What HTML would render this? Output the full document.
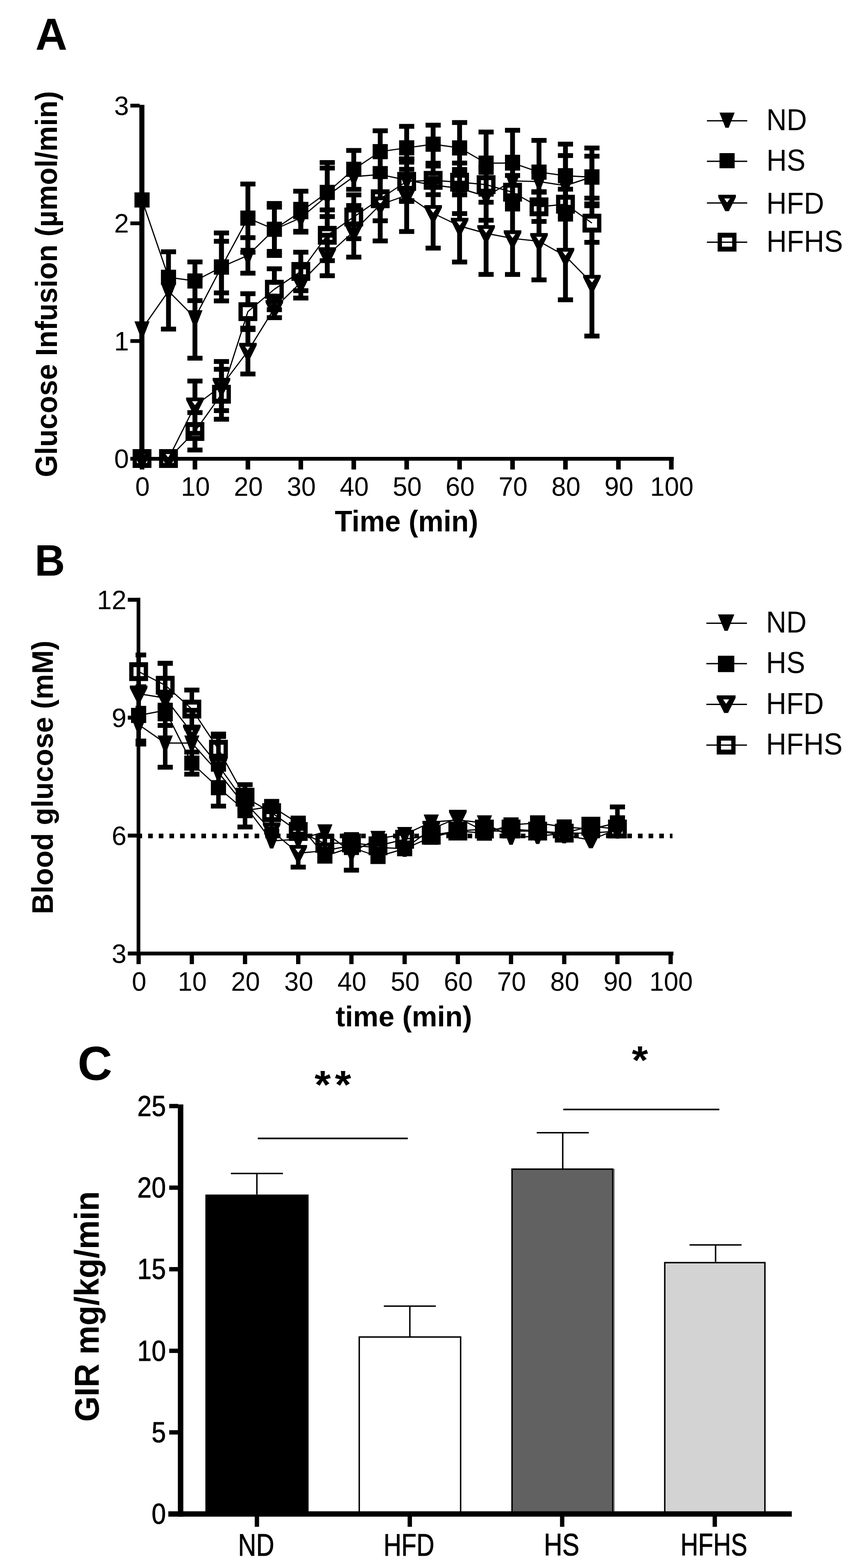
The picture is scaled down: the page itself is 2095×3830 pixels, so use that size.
<!DOCTYPE html>
<html><head><meta charset="utf-8"><title>Figure</title>
<style>
html,body{margin:0;padding:0;background:#fff;}
svg{display:block;}
text{font-family:"Liberation Sans", Arial, sans-serif;fill:#000;}
</style></head>
<body>
<svg width="2095" height="3830" viewBox="0 0 2095 3830">
<rect x="0" y="0" width="2095" height="3830" fill="#fff"/>
<rect x="340.2" y="256.0" width="12.4" height="869.3" fill="#000"/>
<rect x="340.2" y="1116.0" width="1305.0" height="9.3" fill="#000"/>
<rect x="318.3" y="1115.9" width="22.7" height="9.2" fill="#000"/>
<text x="314.8" y="1143.1" font-size="64.8" font-weight="normal" text-anchor="end">0</text>
<rect x="318.3" y="828.4" width="22.7" height="9.2" fill="#000"/>
<text x="314.8" y="855.6" font-size="64.8" font-weight="normal" text-anchor="end">1</text>
<rect x="318.3" y="540.9" width="22.7" height="9.2" fill="#000"/>
<text x="314.8" y="568.1" font-size="64.8" font-weight="normal" text-anchor="end">2</text>
<rect x="318.3" y="253.4" width="22.7" height="9.2" fill="#000"/>
<text x="314.8" y="280.6" font-size="64.8" font-weight="normal" text-anchor="end">3</text>
<rect x="341.2" y="1120.0" width="11.2" height="26.8" fill="#000"/>
<text transform="translate(348.0,1211.3) scale(0.98,1)" font-size="64.8" font-weight="normal" text-anchor="middle">0</text>
<rect x="470.4" y="1120.0" width="11.2" height="26.8" fill="#000"/>
<text transform="translate(477.2,1211.3) scale(0.98,1)" font-size="64.8" font-weight="normal" text-anchor="middle">10</text>
<rect x="599.7" y="1120.0" width="11.2" height="26.8" fill="#000"/>
<text transform="translate(606.5,1211.3) scale(0.98,1)" font-size="64.8" font-weight="normal" text-anchor="middle">20</text>
<rect x="728.9" y="1120.0" width="11.2" height="26.8" fill="#000"/>
<text transform="translate(735.7,1211.3) scale(0.98,1)" font-size="64.8" font-weight="normal" text-anchor="middle">30</text>
<rect x="858.2" y="1120.0" width="11.2" height="26.8" fill="#000"/>
<text transform="translate(865.0,1211.3) scale(0.98,1)" font-size="64.8" font-weight="normal" text-anchor="middle">40</text>
<rect x="987.4" y="1120.0" width="11.2" height="26.8" fill="#000"/>
<text transform="translate(994.2,1211.3) scale(0.98,1)" font-size="64.8" font-weight="normal" text-anchor="middle">50</text>
<rect x="1116.6" y="1120.0" width="11.2" height="26.8" fill="#000"/>
<text transform="translate(1123.4,1211.3) scale(0.98,1)" font-size="64.8" font-weight="normal" text-anchor="middle">60</text>
<rect x="1245.9" y="1120.0" width="11.2" height="26.8" fill="#000"/>
<text transform="translate(1252.7,1211.3) scale(0.98,1)" font-size="64.8" font-weight="normal" text-anchor="middle">70</text>
<rect x="1375.1" y="1120.0" width="11.2" height="26.8" fill="#000"/>
<text transform="translate(1381.9,1211.3) scale(0.98,1)" font-size="64.8" font-weight="normal" text-anchor="middle">80</text>
<rect x="1504.4" y="1120.0" width="11.2" height="26.8" fill="#000"/>
<text transform="translate(1511.2,1211.3) scale(0.98,1)" font-size="64.8" font-weight="normal" text-anchor="middle">90</text>
<rect x="1633.6" y="1120.0" width="11.2" height="26.8" fill="#000"/>
<text transform="translate(1640.4,1211.3) scale(0.98,1)" font-size="64.8" font-weight="normal" text-anchor="middle">100</text>
<text transform="translate(817.50,1297.91) scale(0.9742,1)" font-size="71.38" font-weight="bold">Time (min)</text>
<text transform="translate(138.75,1165.40) rotate(-90) scale(0.9338,1)" font-size="75.00" font-weight="bold">Glucose Infusion (µmol/min)</text>
<text transform="translate(86.57,121.09) scale(0.9899,1)" font-size="108.82" font-weight="bold">A</text>
<rect x="470.1" y="930.7" width="11.8" height="49.3" fill="#000"/>
<rect x="457.5" y="924.8" width="37.0" height="11.8" fill="#000"/>
<rect x="470.1" y="991.0" width="11.8" height="67.5" fill="#000"/>
<rect x="457.5" y="1052.6" width="37.0" height="11.8" fill="#000"/>
<rect x="534.8" y="883.0" width="11.8" height="49.0" fill="#000"/>
<rect x="522.2" y="877.1" width="37.0" height="11.8" fill="#000"/>
<rect x="534.8" y="943.0" width="11.8" height="60.0" fill="#000"/>
<rect x="522.2" y="997.1" width="37.0" height="11.8" fill="#000"/>
<rect x="599.4" y="801.5" width="11.8" height="45.0" fill="#000"/>
<rect x="586.8" y="795.6" width="37.0" height="11.8" fill="#000"/>
<rect x="599.4" y="857.5" width="11.8" height="56.0" fill="#000"/>
<rect x="586.8" y="907.6" width="37.0" height="11.8" fill="#000"/>
<rect x="664.0" y="730.0" width="11.8" height="12.0" fill="#000"/>
<rect x="651.4" y="724.1" width="37.0" height="11.8" fill="#000"/>
<rect x="664.0" y="753.0" width="11.8" height="23.0" fill="#000"/>
<rect x="651.4" y="770.1" width="37.0" height="11.8" fill="#000"/>
<rect x="728.6" y="652.0" width="11.8" height="27.0" fill="#000"/>
<rect x="716.0" y="646.1" width="37.0" height="11.8" fill="#000"/>
<rect x="728.6" y="690.0" width="11.8" height="38.0" fill="#000"/>
<rect x="716.0" y="722.1" width="37.0" height="11.8" fill="#000"/>
<rect x="793.2" y="574.5" width="11.8" height="38.5" fill="#000"/>
<rect x="780.6" y="568.6" width="37.0" height="11.8" fill="#000"/>
<rect x="793.2" y="624.0" width="11.8" height="49.5" fill="#000"/>
<rect x="780.6" y="667.6" width="37.0" height="11.8" fill="#000"/>
<rect x="857.9" y="502.0" width="11.8" height="52.0" fill="#000"/>
<rect x="845.3" y="496.1" width="37.0" height="11.8" fill="#000"/>
<rect x="857.9" y="565.0" width="11.8" height="63.0" fill="#000"/>
<rect x="845.3" y="622.1" width="37.0" height="11.8" fill="#000"/>
<rect x="922.5" y="411.5" width="11.8" height="77.5" fill="#000"/>
<rect x="909.9" y="405.6" width="37.0" height="11.8" fill="#000"/>
<rect x="922.5" y="500.0" width="11.8" height="88.5" fill="#000"/>
<rect x="909.9" y="582.6" width="37.0" height="11.8" fill="#000"/>
<rect x="987.1" y="388.5" width="11.8" height="77.5" fill="#000"/>
<rect x="974.5" y="382.6" width="37.0" height="11.8" fill="#000"/>
<rect x="987.1" y="477.0" width="11.8" height="88.5" fill="#000"/>
<rect x="974.5" y="559.6" width="37.0" height="11.8" fill="#000"/>
<rect x="1051.7" y="436.0" width="11.8" height="74.0" fill="#000"/>
<rect x="1039.1" y="430.1" width="37.0" height="11.8" fill="#000"/>
<rect x="1051.7" y="521.0" width="11.8" height="85.0" fill="#000"/>
<rect x="1039.1" y="600.1" width="37.0" height="11.8" fill="#000"/>
<rect x="1116.3" y="464.0" width="11.8" height="77.0" fill="#000"/>
<rect x="1103.7" y="458.1" width="37.0" height="11.8" fill="#000"/>
<rect x="1116.3" y="552.0" width="11.8" height="88.0" fill="#000"/>
<rect x="1103.7" y="634.1" width="37.0" height="11.8" fill="#000"/>
<rect x="1181.0" y="469.7" width="11.8" height="89.3" fill="#000"/>
<rect x="1168.4" y="463.8" width="37.0" height="11.8" fill="#000"/>
<rect x="1181.0" y="570.0" width="11.8" height="100.3" fill="#000"/>
<rect x="1168.4" y="664.4" width="37.0" height="11.8" fill="#000"/>
<rect x="1245.6" y="494.4" width="11.8" height="77.0" fill="#000"/>
<rect x="1233.0" y="488.5" width="37.0" height="11.8" fill="#000"/>
<rect x="1245.6" y="582.4" width="11.8" height="88.0" fill="#000"/>
<rect x="1233.0" y="664.5" width="37.0" height="11.8" fill="#000"/>
<rect x="1310.2" y="495.0" width="11.8" height="83.3" fill="#000"/>
<rect x="1297.6" y="489.1" width="37.0" height="11.8" fill="#000"/>
<rect x="1310.2" y="589.3" width="11.8" height="94.3" fill="#000"/>
<rect x="1297.6" y="677.7" width="37.0" height="11.8" fill="#000"/>
<rect x="1374.8" y="518.9" width="11.8" height="95.7" fill="#000"/>
<rect x="1362.2" y="513.0" width="37.0" height="11.8" fill="#000"/>
<rect x="1374.8" y="625.6" width="11.8" height="106.7" fill="#000"/>
<rect x="1362.2" y="726.4" width="37.0" height="11.8" fill="#000"/>
<rect x="1439.4" y="562.0" width="11.8" height="118.4" fill="#000"/>
<rect x="1426.8" y="556.1" width="37.0" height="11.8" fill="#000"/>
<rect x="1439.4" y="691.4" width="11.8" height="129.4" fill="#000"/>
<rect x="1426.8" y="814.9" width="37.0" height="11.8" fill="#000"/>
<rect x="470.1" y="1007.8" width="11.8" height="35.2" fill="#000"/>
<rect x="457.5" y="1001.9" width="37.0" height="11.8" fill="#000"/>
<rect x="470.1" y="1065.0" width="11.8" height="34.2" fill="#000"/>
<rect x="457.5" y="1093.3" width="37.0" height="11.8" fill="#000"/>
<rect x="534.8" y="902.0" width="11.8" height="50.0" fill="#000"/>
<rect x="522.2" y="896.1" width="37.0" height="11.8" fill="#000"/>
<rect x="534.8" y="974.0" width="11.8" height="50.0" fill="#000"/>
<rect x="522.2" y="1018.1" width="37.0" height="11.8" fill="#000"/>
<rect x="599.4" y="717.4" width="11.8" height="32.8" fill="#000"/>
<rect x="586.8" y="711.5" width="37.0" height="11.8" fill="#000"/>
<rect x="599.4" y="772.2" width="11.8" height="32.8" fill="#000"/>
<rect x="586.8" y="799.1" width="37.0" height="11.8" fill="#000"/>
<rect x="664.0" y="656.5" width="11.8" height="39.0" fill="#000"/>
<rect x="651.4" y="650.6" width="37.0" height="11.8" fill="#000"/>
<rect x="664.0" y="717.5" width="11.8" height="39.0" fill="#000"/>
<rect x="651.4" y="750.6" width="37.0" height="11.8" fill="#000"/>
<rect x="728.6" y="616.0" width="11.8" height="36.0" fill="#000"/>
<rect x="716.0" y="610.1" width="37.0" height="11.8" fill="#000"/>
<rect x="728.6" y="674.0" width="11.8" height="36.0" fill="#000"/>
<rect x="716.0" y="704.1" width="37.0" height="11.8" fill="#000"/>
<rect x="793.2" y="512.7" width="11.8" height="51.0" fill="#000"/>
<rect x="780.6" y="506.8" width="37.0" height="11.8" fill="#000"/>
<rect x="793.2" y="585.7" width="11.8" height="51.0" fill="#000"/>
<rect x="780.6" y="630.8" width="37.0" height="11.8" fill="#000"/>
<rect x="857.9" y="476.0" width="11.8" height="43.0" fill="#000"/>
<rect x="845.3" y="470.1" width="37.0" height="11.8" fill="#000"/>
<rect x="857.9" y="541.0" width="11.8" height="42.0" fill="#000"/>
<rect x="845.3" y="577.1" width="37.0" height="11.8" fill="#000"/>
<rect x="922.5" y="431.5" width="11.8" height="42.9" fill="#000"/>
<rect x="909.9" y="425.6" width="37.0" height="11.8" fill="#000"/>
<rect x="922.5" y="496.4" width="11.8" height="42.9" fill="#000"/>
<rect x="909.9" y="533.4" width="37.0" height="11.8" fill="#000"/>
<rect x="987.1" y="396.1" width="11.8" height="36.0" fill="#000"/>
<rect x="974.5" y="390.2" width="37.0" height="11.8" fill="#000"/>
<rect x="987.1" y="454.1" width="11.8" height="36.0" fill="#000"/>
<rect x="974.5" y="484.2" width="37.0" height="11.8" fill="#000"/>
<rect x="1051.7" y="405.5" width="11.8" height="24.0" fill="#000"/>
<rect x="1039.1" y="399.6" width="37.0" height="11.8" fill="#000"/>
<rect x="1051.7" y="451.5" width="11.8" height="24.0" fill="#000"/>
<rect x="1039.1" y="469.6" width="37.0" height="11.8" fill="#000"/>
<rect x="1116.3" y="414.0" width="11.8" height="20.0" fill="#000"/>
<rect x="1103.7" y="408.1" width="37.0" height="11.8" fill="#000"/>
<rect x="1116.3" y="456.0" width="11.8" height="20.0" fill="#000"/>
<rect x="1103.7" y="470.1" width="37.0" height="11.8" fill="#000"/>
<rect x="1181.0" y="408.0" width="11.8" height="32.0" fill="#000"/>
<rect x="1168.4" y="402.1" width="37.0" height="11.8" fill="#000"/>
<rect x="1181.0" y="462.0" width="11.8" height="32.0" fill="#000"/>
<rect x="1168.4" y="488.1" width="37.0" height="11.8" fill="#000"/>
<rect x="1245.6" y="428.6" width="11.8" height="30.0" fill="#000"/>
<rect x="1233.0" y="422.7" width="37.0" height="11.8" fill="#000"/>
<rect x="1245.6" y="480.6" width="11.8" height="30.0" fill="#000"/>
<rect x="1233.0" y="504.7" width="37.0" height="11.8" fill="#000"/>
<rect x="1310.2" y="469.5" width="11.8" height="24.7" fill="#000"/>
<rect x="1297.6" y="463.6" width="37.0" height="11.8" fill="#000"/>
<rect x="1310.2" y="516.2" width="11.8" height="24.7" fill="#000"/>
<rect x="1297.6" y="535.0" width="37.0" height="11.8" fill="#000"/>
<rect x="1374.8" y="462.1" width="11.8" height="25.6" fill="#000"/>
<rect x="1362.2" y="456.2" width="37.0" height="11.8" fill="#000"/>
<rect x="1374.8" y="509.7" width="11.8" height="25.6" fill="#000"/>
<rect x="1362.2" y="529.4" width="37.0" height="11.8" fill="#000"/>
<rect x="1439.4" y="497.9" width="11.8" height="36.0" fill="#000"/>
<rect x="1426.8" y="492.0" width="37.0" height="11.8" fill="#000"/>
<rect x="1439.4" y="555.9" width="11.8" height="36.0" fill="#000"/>
<rect x="1426.8" y="586.0" width="37.0" height="11.8" fill="#000"/>
<rect x="405.5" y="615.0" width="11.8" height="96.0" fill="#000"/>
<rect x="392.9" y="609.1" width="37.0" height="11.8" fill="#000"/>
<rect x="405.5" y="711.0" width="11.8" height="92.8" fill="#000"/>
<rect x="392.9" y="797.9" width="37.0" height="11.8" fill="#000"/>
<rect x="470.1" y="677.7" width="11.8" height="98.6" fill="#000"/>
<rect x="457.5" y="671.8" width="37.0" height="11.8" fill="#000"/>
<rect x="470.1" y="776.3" width="11.8" height="98.6" fill="#000"/>
<rect x="457.5" y="869.0" width="37.0" height="11.8" fill="#000"/>
<rect x="534.8" y="569.0" width="11.8" height="83.0" fill="#000"/>
<rect x="522.2" y="563.1" width="37.0" height="11.8" fill="#000"/>
<rect x="534.8" y="652.0" width="11.8" height="83.0" fill="#000"/>
<rect x="522.2" y="729.1" width="37.0" height="11.8" fill="#000"/>
<rect x="599.4" y="580.5" width="11.8" height="43.4" fill="#000"/>
<rect x="586.8" y="574.6" width="37.0" height="11.8" fill="#000"/>
<rect x="599.4" y="623.9" width="11.8" height="43.4" fill="#000"/>
<rect x="586.8" y="661.4" width="37.0" height="11.8" fill="#000"/>
<rect x="664.0" y="497.0" width="11.8" height="63.5" fill="#000"/>
<rect x="651.4" y="491.1" width="37.0" height="11.8" fill="#000"/>
<rect x="664.0" y="560.5" width="11.8" height="63.5" fill="#000"/>
<rect x="651.4" y="618.1" width="37.0" height="11.8" fill="#000"/>
<rect x="728.6" y="499.0" width="11.8" height="33.0" fill="#000"/>
<rect x="716.0" y="493.1" width="37.0" height="11.8" fill="#000"/>
<rect x="728.6" y="532.0" width="11.8" height="33.0" fill="#000"/>
<rect x="716.0" y="559.1" width="37.0" height="11.8" fill="#000"/>
<rect x="793.2" y="397.0" width="11.8" height="81.0" fill="#000"/>
<rect x="780.6" y="391.1" width="37.0" height="11.8" fill="#000"/>
<rect x="793.2" y="478.0" width="11.8" height="81.0" fill="#000"/>
<rect x="780.6" y="553.1" width="37.0" height="11.8" fill="#000"/>
<rect x="987.1" y="388.0" width="11.8" height="52.0" fill="#000"/>
<rect x="974.5" y="382.1" width="37.0" height="11.8" fill="#000"/>
<rect x="987.1" y="440.0" width="11.8" height="52.0" fill="#000"/>
<rect x="974.5" y="486.1" width="37.0" height="11.8" fill="#000"/>
<rect x="1116.3" y="398.3" width="11.8" height="61.7" fill="#000"/>
<rect x="1103.7" y="392.4" width="37.0" height="11.8" fill="#000"/>
<rect x="1116.3" y="460.0" width="11.8" height="61.7" fill="#000"/>
<rect x="1103.7" y="515.8" width="37.0" height="11.8" fill="#000"/>
<rect x="1181.0" y="421.0" width="11.8" height="58.5" fill="#000"/>
<rect x="1168.4" y="415.1" width="37.0" height="11.8" fill="#000"/>
<rect x="1181.0" y="479.5" width="11.8" height="58.5" fill="#000"/>
<rect x="1168.4" y="532.1" width="37.0" height="11.8" fill="#000"/>
<rect x="1245.6" y="383.9" width="11.8" height="58.0" fill="#000"/>
<rect x="1233.0" y="378.0" width="37.0" height="11.8" fill="#000"/>
<rect x="1245.6" y="441.9" width="11.8" height="58.0" fill="#000"/>
<rect x="1233.0" y="494.0" width="37.0" height="11.8" fill="#000"/>
<rect x="1310.2" y="418.8" width="11.8" height="24.7" fill="#000"/>
<rect x="1297.6" y="412.9" width="37.0" height="11.8" fill="#000"/>
<rect x="1310.2" y="443.5" width="11.8" height="24.7" fill="#000"/>
<rect x="1297.6" y="462.3" width="37.0" height="11.8" fill="#000"/>
<rect x="1374.8" y="380.0" width="11.8" height="73.5" fill="#000"/>
<rect x="1362.2" y="374.1" width="37.0" height="11.8" fill="#000"/>
<rect x="1374.8" y="453.5" width="11.8" height="73.5" fill="#000"/>
<rect x="1362.2" y="521.1" width="37.0" height="11.8" fill="#000"/>
<rect x="1439.4" y="361.5" width="11.8" height="70.5" fill="#000"/>
<rect x="1426.8" y="355.6" width="37.0" height="11.8" fill="#000"/>
<rect x="1439.4" y="432.0" width="11.8" height="70.5" fill="#000"/>
<rect x="1426.8" y="496.6" width="37.0" height="11.8" fill="#000"/>
<rect x="470.1" y="639.8" width="11.8" height="46.5" fill="#000"/>
<rect x="457.5" y="633.9" width="37.0" height="11.8" fill="#000"/>
<rect x="470.1" y="686.3" width="11.8" height="48.0" fill="#000"/>
<rect x="457.5" y="728.4" width="37.0" height="11.8" fill="#000"/>
<rect x="534.8" y="589.4" width="11.8" height="63.0" fill="#000"/>
<rect x="522.2" y="583.5" width="37.0" height="11.8" fill="#000"/>
<rect x="534.8" y="652.4" width="11.8" height="63.0" fill="#000"/>
<rect x="522.2" y="709.5" width="37.0" height="11.8" fill="#000"/>
<rect x="599.4" y="449.5" width="11.8" height="83.3" fill="#000"/>
<rect x="586.8" y="443.6" width="37.0" height="11.8" fill="#000"/>
<rect x="599.4" y="532.8" width="11.8" height="83.3" fill="#000"/>
<rect x="586.8" y="610.2" width="37.0" height="11.8" fill="#000"/>
<rect x="664.0" y="506.0" width="11.8" height="54.0" fill="#000"/>
<rect x="651.4" y="500.1" width="37.0" height="11.8" fill="#000"/>
<rect x="664.0" y="560.0" width="11.8" height="54.0" fill="#000"/>
<rect x="651.4" y="608.1" width="37.0" height="11.8" fill="#000"/>
<rect x="728.6" y="467.0" width="11.8" height="50.0" fill="#000"/>
<rect x="716.0" y="461.1" width="37.0" height="11.8" fill="#000"/>
<rect x="728.6" y="517.0" width="11.8" height="50.0" fill="#000"/>
<rect x="716.0" y="561.1" width="37.0" height="11.8" fill="#000"/>
<rect x="793.2" y="410.5" width="11.8" height="59.5" fill="#000"/>
<rect x="780.6" y="404.6" width="37.0" height="11.8" fill="#000"/>
<rect x="793.2" y="470.0" width="11.8" height="59.0" fill="#000"/>
<rect x="780.6" y="523.1" width="37.0" height="11.8" fill="#000"/>
<rect x="857.9" y="367.5" width="11.8" height="46.0" fill="#000"/>
<rect x="845.3" y="361.6" width="37.0" height="11.8" fill="#000"/>
<rect x="857.9" y="413.5" width="11.8" height="49.0" fill="#000"/>
<rect x="845.3" y="456.6" width="37.0" height="11.8" fill="#000"/>
<rect x="922.5" y="319.4" width="11.8" height="51.0" fill="#000"/>
<rect x="909.9" y="313.5" width="37.0" height="11.8" fill="#000"/>
<rect x="922.5" y="370.4" width="11.8" height="51.0" fill="#000"/>
<rect x="909.9" y="415.5" width="37.0" height="11.8" fill="#000"/>
<rect x="987.1" y="308.6" width="11.8" height="52.5" fill="#000"/>
<rect x="974.5" y="302.7" width="37.0" height="11.8" fill="#000"/>
<rect x="987.1" y="361.1" width="11.8" height="52.5" fill="#000"/>
<rect x="974.5" y="407.7" width="37.0" height="11.8" fill="#000"/>
<rect x="1051.7" y="305.7" width="11.8" height="46.5" fill="#000"/>
<rect x="1039.1" y="299.8" width="37.0" height="11.8" fill="#000"/>
<rect x="1051.7" y="352.2" width="11.8" height="46.5" fill="#000"/>
<rect x="1039.1" y="392.8" width="37.0" height="11.8" fill="#000"/>
<rect x="1116.3" y="299.3" width="11.8" height="62.0" fill="#000"/>
<rect x="1103.7" y="293.4" width="37.0" height="11.8" fill="#000"/>
<rect x="1116.3" y="361.3" width="11.8" height="62.0" fill="#000"/>
<rect x="1103.7" y="417.4" width="37.0" height="11.8" fill="#000"/>
<rect x="1181.0" y="322.5" width="11.8" height="76.0" fill="#000"/>
<rect x="1168.4" y="316.6" width="37.0" height="11.8" fill="#000"/>
<rect x="1181.0" y="398.5" width="11.8" height="76.0" fill="#000"/>
<rect x="1168.4" y="468.6" width="37.0" height="11.8" fill="#000"/>
<rect x="1245.6" y="318.2" width="11.8" height="80.0" fill="#000"/>
<rect x="1233.0" y="312.3" width="37.0" height="11.8" fill="#000"/>
<rect x="1245.6" y="398.2" width="11.8" height="80.0" fill="#000"/>
<rect x="1233.0" y="472.3" width="37.0" height="11.8" fill="#000"/>
<rect x="1310.2" y="342.9" width="11.8" height="77.5" fill="#000"/>
<rect x="1297.6" y="337.0" width="37.0" height="11.8" fill="#000"/>
<rect x="1310.2" y="420.4" width="11.8" height="77.5" fill="#000"/>
<rect x="1297.6" y="492.0" width="37.0" height="11.8" fill="#000"/>
<rect x="1374.8" y="352.0" width="11.8" height="77.2" fill="#000"/>
<rect x="1362.2" y="346.1" width="37.0" height="11.8" fill="#000"/>
<rect x="1374.8" y="429.2" width="11.8" height="77.2" fill="#000"/>
<rect x="1362.2" y="500.5" width="37.0" height="11.8" fill="#000"/>
<rect x="1439.4" y="381.5" width="11.8" height="51.2" fill="#000"/>
<rect x="1426.8" y="375.6" width="37.0" height="11.8" fill="#000"/>
<rect x="1439.4" y="432.7" width="11.8" height="51.2" fill="#000"/>
<rect x="1426.8" y="478.0" width="37.0" height="11.8" fill="#000"/>
<path d="M325.3,1100.0 L368.3,1100.0 L368.3,1106.0 L351.3,1140.0 L342.3,1140.0 L325.3,1106.0 Z M339.8,1109.0 L346.8,1119.0 L353.8,1109.0 Z" fill="#000" fill-rule="evenodd"/>
<path d="M389.9,1100.0 L432.9,1100.0 L432.9,1106.0 L415.9,1140.0 L406.9,1140.0 L389.9,1106.0 Z M404.4,1109.0 L411.4,1119.0 L418.4,1109.0 Z" fill="#000" fill-rule="evenodd"/>
<path d="M454.5,971.0 L497.5,971.0 L497.5,977.0 L480.5,1011.0 L471.5,1011.0 L454.5,977.0 Z M469.0,980.0 L476.0,990.0 L483.0,980.0 Z" fill="#000" fill-rule="evenodd"/>
<path d="M519.2,923.0 L562.2,923.0 L562.2,929.0 L545.2,963.0 L536.2,963.0 L519.2,929.0 Z M533.7,932.0 L540.7,942.0 L547.7,932.0 Z" fill="#000" fill-rule="evenodd"/>
<path d="M583.8,837.5 L626.8,837.5 L626.8,843.5 L609.8,877.5 L600.8,877.5 L583.8,843.5 Z M598.3,846.5 L605.3,856.5 L612.3,846.5 Z" fill="#000" fill-rule="evenodd"/>
<path d="M648.4,733.0 L691.4,733.0 L691.4,739.0 L674.4,773.0 L665.4,773.0 L648.4,739.0 Z M662.9,742.0 L669.9,752.0 L676.9,742.0 Z" fill="#000" fill-rule="evenodd"/>
<path d="M713.0,670.0 L756.0,670.0 L756.0,676.0 L739.0,710.0 L730.0,710.0 L713.0,676.0 Z M727.5,679.0 L734.5,689.0 L741.5,679.0 Z" fill="#000" fill-rule="evenodd"/>
<path d="M777.6,604.0 L820.6,604.0 L820.6,610.0 L803.6,644.0 L794.6,644.0 L777.6,610.0 Z M792.1,613.0 L799.1,623.0 L806.1,613.0 Z" fill="#000" fill-rule="evenodd"/>
<path d="M842.3,545.0 L885.3,545.0 L885.3,551.0 L868.3,585.0 L859.3,585.0 L842.3,551.0 Z M856.8,554.0 L863.8,564.0 L870.8,554.0 Z" fill="#000" fill-rule="evenodd"/>
<path d="M906.9,480.0 L949.9,480.0 L949.9,486.0 L932.9,520.0 L923.9,520.0 L906.9,486.0 Z M921.4,489.0 L928.4,499.0 L935.4,489.0 Z" fill="#000" fill-rule="evenodd"/>
<path d="M971.5,457.0 L1014.5,457.0 L1014.5,463.0 L997.5,497.0 L988.5,497.0 L971.5,463.0 Z M986.0,466.0 L993.0,476.0 L1000.0,466.0 Z" fill="#000" fill-rule="evenodd"/>
<path d="M1036.1,501.0 L1079.1,501.0 L1079.1,507.0 L1062.1,541.0 L1053.1,541.0 L1036.1,507.0 Z M1050.6,510.0 L1057.6,520.0 L1064.6,510.0 Z" fill="#000" fill-rule="evenodd"/>
<path d="M1100.7,532.0 L1143.7,532.0 L1143.7,538.0 L1126.7,572.0 L1117.7,572.0 L1100.7,538.0 Z M1115.2,541.0 L1122.2,551.0 L1129.2,541.0 Z" fill="#000" fill-rule="evenodd"/>
<path d="M1165.4,550.0 L1208.4,550.0 L1208.4,556.0 L1191.4,590.0 L1182.4,590.0 L1165.4,556.0 Z M1179.9,559.0 L1186.9,569.0 L1193.9,559.0 Z" fill="#000" fill-rule="evenodd"/>
<path d="M1230.0,562.4 L1273.0,562.4 L1273.0,568.4 L1256.0,602.4 L1247.0,602.4 L1230.0,568.4 Z M1244.5,571.4 L1251.5,581.4 L1258.5,571.4 Z" fill="#000" fill-rule="evenodd"/>
<path d="M1294.6,569.3 L1337.6,569.3 L1337.6,575.3 L1320.6,609.3 L1311.6,609.3 L1294.6,575.3 Z M1309.1,578.3 L1316.1,588.3 L1323.1,578.3 Z" fill="#000" fill-rule="evenodd"/>
<path d="M1359.2,605.6 L1402.2,605.6 L1402.2,611.6 L1385.2,645.6 L1376.2,645.6 L1359.2,611.6 Z M1373.7,614.6 L1380.7,624.6 L1387.7,614.6 Z" fill="#000" fill-rule="evenodd"/>
<path d="M1423.8,671.4 L1466.8,671.4 L1466.8,677.4 L1449.8,711.4 L1440.8,711.4 L1423.8,677.4 Z M1438.3,680.4 L1445.3,690.4 L1452.3,680.4 Z" fill="#000" fill-rule="evenodd"/>
<path d="M323.8,1097.0h46v46h-46z M334.3,1109.0v22h25v-22z" fill="#000" fill-rule="evenodd"/>
<path d="M388.4,1097.0h46v46h-46z M398.9,1109.0v22h25v-22z" fill="#000" fill-rule="evenodd"/>
<path d="M453.0,1031.0h46v46h-46z M463.5,1043.0v22h25v-22z" fill="#000" fill-rule="evenodd"/>
<path d="M517.7,940.0h46v46h-46z M528.2,952.0v22h25v-22z" fill="#000" fill-rule="evenodd"/>
<path d="M582.3,738.2h46v46h-46z M592.8,750.2v22h25v-22z" fill="#000" fill-rule="evenodd"/>
<path d="M646.9,683.5h46v46h-46z M657.4,695.5v22h25v-22z" fill="#000" fill-rule="evenodd"/>
<path d="M711.5,640.0h46v46h-46z M722.0,652.0v22h25v-22z" fill="#000" fill-rule="evenodd"/>
<path d="M776.1,551.7h46v46h-46z M786.6,563.7v22h25v-22z" fill="#000" fill-rule="evenodd"/>
<path d="M840.8,507.0h46v46h-46z M851.3,519.0v22h25v-22z" fill="#000" fill-rule="evenodd"/>
<path d="M905.4,462.4h46v46h-46z M915.9,474.4v22h25v-22z" fill="#000" fill-rule="evenodd"/>
<path d="M970.0,420.1h46v46h-46z M980.5,432.1v22h25v-22z" fill="#000" fill-rule="evenodd"/>
<path d="M1034.6,417.5h46v46h-46z M1045.1,429.5v22h25v-22z" fill="#000" fill-rule="evenodd"/>
<path d="M1099.2,422.0h46v46h-46z M1109.7,434.0v22h25v-22z" fill="#000" fill-rule="evenodd"/>
<path d="M1163.9,428.0h46v46h-46z M1174.4,440.0v22h25v-22z" fill="#000" fill-rule="evenodd"/>
<path d="M1228.5,446.6h46v46h-46z M1239.0,458.6v22h25v-22z" fill="#000" fill-rule="evenodd"/>
<path d="M1293.1,482.2h46v46h-46z M1303.6,494.2v22h25v-22z" fill="#000" fill-rule="evenodd"/>
<path d="M1357.7,475.7h46v46h-46z M1368.2,487.7v22h25v-22z" fill="#000" fill-rule="evenodd"/>
<path d="M1422.3,521.9h46v46h-46z M1432.8,533.9v22h25v-22z" fill="#000" fill-rule="evenodd"/>
<polygon points="328.3,785.0 365.3,785.0 350.8,822.0 342.8,822.0" fill="#000"/>
<polygon points="392.9,692.5 429.9,692.5 415.4,729.5 407.4,729.5" fill="#000"/>
<polygon points="457.5,757.8 494.5,757.8 480.0,794.8 472.0,794.8" fill="#000"/>
<polygon points="522.2,633.5 559.2,633.5 544.7,670.5 536.7,670.5" fill="#000"/>
<polygon points="586.8,605.4 623.8,605.4 609.3,642.4 601.3,642.4" fill="#000"/>
<polygon points="651.4,542.0 688.4,542.0 673.9,579.0 665.9,579.0" fill="#000"/>
<polygon points="716.0,513.5 753.0,513.5 738.5,550.5 730.5,550.5" fill="#000"/>
<polygon points="780.6,459.5 817.6,459.5 803.1,496.5 795.1,496.5" fill="#000"/>
<polygon points="845.3,413.0 882.3,413.0 867.8,450.0 859.8,450.0" fill="#000"/>
<polygon points="909.9,407.8 946.9,407.8 932.4,444.8 924.4,444.8" fill="#000"/>
<polygon points="974.5,421.5 1011.5,421.5 997.0,458.5 989.0,458.5" fill="#000"/>
<polygon points="1039.1,433.5 1076.1,433.5 1061.6,470.5 1053.6,470.5" fill="#000"/>
<polygon points="1103.7,441.5 1140.7,441.5 1126.2,478.5 1118.2,478.5" fill="#000"/>
<polygon points="1168.4,461.0 1205.4,461.0 1190.9,498.0 1182.9,498.0" fill="#000"/>
<polygon points="1233.0,423.4 1270.0,423.4 1255.5,460.4 1247.5,460.4" fill="#000"/>
<polygon points="1297.6,425.0 1334.6,425.0 1320.1,462.0 1312.1,462.0" fill="#000"/>
<polygon points="1362.2,435.0 1399.2,435.0 1384.7,472.0 1376.7,472.0" fill="#000"/>
<polygon points="1426.8,413.5 1463.8,413.5 1449.3,450.5 1441.3,450.5" fill="#000"/>
<rect x="328.3" y="469.9" width="37.0" height="37.0" fill="#000"/>
<rect x="392.9" y="658.8" width="37.0" height="37.0" fill="#000"/>
<rect x="457.5" y="667.8" width="37.0" height="37.0" fill="#000"/>
<rect x="522.2" y="633.9" width="37.0" height="37.0" fill="#000"/>
<rect x="586.8" y="514.3" width="37.0" height="37.0" fill="#000"/>
<rect x="651.4" y="541.5" width="37.0" height="37.0" fill="#000"/>
<rect x="716.0" y="498.5" width="37.0" height="37.0" fill="#000"/>
<rect x="780.6" y="451.5" width="37.0" height="37.0" fill="#000"/>
<rect x="845.3" y="395.0" width="37.0" height="37.0" fill="#000"/>
<rect x="909.9" y="351.9" width="37.0" height="37.0" fill="#000"/>
<rect x="974.5" y="342.6" width="37.0" height="37.0" fill="#000"/>
<rect x="1039.1" y="333.7" width="37.0" height="37.0" fill="#000"/>
<rect x="1103.7" y="342.8" width="37.0" height="37.0" fill="#000"/>
<rect x="1168.4" y="380.0" width="37.0" height="37.0" fill="#000"/>
<rect x="1233.0" y="379.7" width="37.0" height="37.0" fill="#000"/>
<rect x="1297.6" y="401.9" width="37.0" height="37.0" fill="#000"/>
<rect x="1362.2" y="410.7" width="37.0" height="37.0" fill="#000"/>
<rect x="1426.8" y="414.2" width="37.0" height="37.0" fill="#000"/>
<polyline points="346.8,1120.0 411.4,1120.0 476.0,991.0 540.7,943.0 605.3,857.5 669.9,753.0 734.5,690.0 799.1,624.0 863.8,565.0 928.4,500.0 993.0,477.0 1057.6,521.0 1122.2,552.0 1186.9,570.0 1251.5,582.4 1316.1,589.3 1380.7,625.6 1445.3,691.4" fill="none" stroke="#000" stroke-width="2.9" stroke-linejoin="round"/>
<polyline points="346.8,1120.0 411.4,1120.0 476.0,1054.0 540.7,963.0 605.3,761.2 669.9,706.5 734.5,663.0 799.1,574.7 863.8,530.0 928.4,485.4 993.0,443.1 1057.6,440.5 1122.2,445.0 1186.9,451.0 1251.5,469.6 1316.1,505.2 1380.7,498.7 1445.3,544.9" fill="none" stroke="#000" stroke-width="2.9" stroke-linejoin="round"/>
<polyline points="346.8,803.5 411.4,711.0 476.0,776.3 540.7,652.0 605.3,623.9 669.9,560.5 734.5,532.0 799.1,478.0 863.8,431.5 928.4,426.3 993.0,440.0 1057.6,452.0 1122.2,460.0 1186.9,479.5 1251.5,441.9 1316.1,443.5 1380.7,453.5 1445.3,432.0" fill="none" stroke="#000" stroke-width="2.9" stroke-linejoin="round"/>
<polyline points="346.8,488.4 411.4,677.3 476.0,686.3 540.7,652.4 605.3,532.8 669.9,560.0 734.5,517.0 799.1,470.0 863.8,413.5 928.4,370.4 993.0,361.1 1057.6,352.2 1122.2,361.3 1186.9,398.5 1251.5,398.2 1316.1,420.4 1380.7,429.2 1445.3,432.7" fill="none" stroke="#000" stroke-width="2.9" stroke-linejoin="round"/>
<rect x="1726.1" y="293.4" width="98.5" height="3.2" fill="#000"/>
<polygon points="1756.8,275.0 1793.8,275.0 1779.3,312.0 1771.3,312.0" fill="#000"/>
<text transform="translate(1871.30,317.90) scale(0.92,1)" font-size="74.6">ND</text>
<rect x="1726.1" y="392.4" width="98.5" height="3.2" fill="#000"/>
<rect x="1756.8" y="374.0" width="37.0" height="37.0" fill="#000"/>
<text transform="translate(1871.43,416.70) scale(0.92,1)" font-size="74.6">HS</text>
<rect x="1726.1" y="494.2" width="98.5" height="3.2" fill="#000"/>
<path d="M1753.8,475.8 L1796.8,475.8 L1796.8,481.8 L1779.8,515.8 L1770.8,515.8 L1753.8,481.8 Z M1768.3,484.8 L1775.3,494.8 L1782.3,484.8 Z" fill="#000" fill-rule="evenodd"/>
<text transform="translate(1871.27,522.00) scale(0.92,1)" font-size="74.6">HFD</text>
<rect x="1726.1" y="590.0" width="98.5" height="3.2" fill="#000"/>
<path d="M1752.3,568.6h46v46h-46z M1762.8,580.6v22h25v-22z" fill="#000" fill-rule="evenodd"/>
<text transform="translate(1871.49,614.60) scale(0.92,1)" font-size="74.6">HFHS</text>
<rect x="333.6" y="1460.0" width="9.0" height="873.7" fill="#000"/>
<rect x="333.6" y="2324.4" width="1310.7" height="9.3" fill="#000"/>
<rect x="312.0" y="2324.2" width="22.0" height="9.6" fill="#000"/>
<text x="308.8" y="2351.6" font-size="64.8" font-weight="normal" text-anchor="end">3</text>
<rect x="312.0" y="2036.2" width="22.0" height="9.6" fill="#000"/>
<text x="308.8" y="2063.6" font-size="64.8" font-weight="normal" text-anchor="end">6</text>
<rect x="312.0" y="1748.2" width="22.0" height="9.6" fill="#000"/>
<text x="308.8" y="1775.6" font-size="64.8" font-weight="normal" text-anchor="end">9</text>
<rect x="312.0" y="1460.2" width="22.0" height="9.6" fill="#000"/>
<text x="308.8" y="1487.6" font-size="64.8" font-weight="normal" text-anchor="end">12</text>
<rect x="333.3" y="2329.0" width="10.4" height="26.0" fill="#000"/>
<text transform="translate(339.7,2419.6) scale(0.98,1)" font-size="64.8" font-weight="normal" text-anchor="middle">0</text>
<rect x="463.2" y="2329.0" width="10.4" height="26.0" fill="#000"/>
<text transform="translate(469.6,2419.6) scale(0.98,1)" font-size="64.8" font-weight="normal" text-anchor="middle">10</text>
<rect x="593.1" y="2329.0" width="10.4" height="26.0" fill="#000"/>
<text transform="translate(599.5,2419.6) scale(0.98,1)" font-size="64.8" font-weight="normal" text-anchor="middle">20</text>
<rect x="723.0" y="2329.0" width="10.4" height="26.0" fill="#000"/>
<text transform="translate(729.4,2419.6) scale(0.98,1)" font-size="64.8" font-weight="normal" text-anchor="middle">30</text>
<rect x="852.9" y="2329.0" width="10.4" height="26.0" fill="#000"/>
<text transform="translate(859.3,2419.6) scale(0.98,1)" font-size="64.8" font-weight="normal" text-anchor="middle">40</text>
<rect x="982.8" y="2329.0" width="10.4" height="26.0" fill="#000"/>
<text transform="translate(989.2,2419.6) scale(0.98,1)" font-size="64.8" font-weight="normal" text-anchor="middle">50</text>
<rect x="1112.7" y="2329.0" width="10.4" height="26.0" fill="#000"/>
<text transform="translate(1119.1,2419.6) scale(0.98,1)" font-size="64.8" font-weight="normal" text-anchor="middle">60</text>
<rect x="1242.6" y="2329.0" width="10.4" height="26.0" fill="#000"/>
<text transform="translate(1249.0,2419.6) scale(0.98,1)" font-size="64.8" font-weight="normal" text-anchor="middle">70</text>
<rect x="1372.5" y="2329.0" width="10.4" height="26.0" fill="#000"/>
<text transform="translate(1378.9,2419.6) scale(0.98,1)" font-size="64.8" font-weight="normal" text-anchor="middle">80</text>
<rect x="1502.4" y="2329.0" width="10.4" height="26.0" fill="#000"/>
<text transform="translate(1508.8,2419.6) scale(0.98,1)" font-size="64.8" font-weight="normal" text-anchor="middle">90</text>
<rect x="1632.3" y="2329.0" width="10.4" height="26.0" fill="#000"/>
<text transform="translate(1638.7,2419.6) scale(0.98,1)" font-size="64.8" font-weight="normal" text-anchor="middle">100</text>
<line x1="335.7" y1="2041.8" x2="1642" y2="2041.8" stroke="#000" stroke-width="11.3" stroke-dasharray="11.3 14.7"/>
<text transform="translate(819.50,2507.03) scale(0.9791,1)" font-size="71.28" font-weight="bold">time (min)</text>
<text transform="translate(129.03,2232.90) rotate(-90) scale(0.9683,1)" font-size="72.23" font-weight="bold">Blood glucose (mM)</text>
<text transform="translate(84.63,1406.10) scale(0.9464,1)" font-size="108.26" font-weight="bold">B</text>
<rect x="397.9" y="1620.0" width="11.0" height="74.0" fill="#000"/>
<rect x="384.9" y="1614.1" width="37.0" height="11.8" fill="#000"/>
<rect x="462.9" y="1735.0" width="11.0" height="44.0" fill="#000"/>
<rect x="449.9" y="1729.1" width="37.0" height="11.8" fill="#000"/>
<rect x="527.9" y="1799.0" width="11.0" height="60.0" fill="#000"/>
<rect x="514.9" y="1793.1" width="37.0" height="11.8" fill="#000"/>
<rect x="722.7" y="2084.0" width="11.0" height="34.0" fill="#000"/>
<rect x="709.7" y="2112.1" width="37.0" height="11.8" fill="#000"/>
<rect x="333.0" y="1599.8" width="11.0" height="29.7" fill="#000"/>
<rect x="331.0" y="1593.9" width="26.0" height="11.8" fill="#000"/>
<rect x="333.0" y="1651.5" width="11.0" height="29.7" fill="#000"/>
<rect x="331.0" y="1675.3" width="26.0" height="11.8" fill="#000"/>
<rect x="397.9" y="1620.4" width="11.0" height="42.3" fill="#000"/>
<rect x="384.9" y="1614.5" width="37.0" height="11.8" fill="#000"/>
<rect x="397.9" y="1684.7" width="11.0" height="42.3" fill="#000"/>
<rect x="384.9" y="1721.1" width="37.0" height="11.8" fill="#000"/>
<rect x="462.9" y="1685.5" width="11.0" height="35.5" fill="#000"/>
<rect x="449.9" y="1679.6" width="37.0" height="11.8" fill="#000"/>
<rect x="462.9" y="1743.0" width="11.0" height="35.5" fill="#000"/>
<rect x="449.9" y="1772.6" width="37.0" height="11.8" fill="#000"/>
<rect x="527.9" y="1793.0" width="11.0" height="26.0" fill="#000"/>
<rect x="514.9" y="1787.1" width="37.0" height="11.8" fill="#000"/>
<rect x="527.9" y="1841.0" width="11.0" height="26.0" fill="#000"/>
<rect x="514.9" y="1861.1" width="37.0" height="11.8" fill="#000"/>
<rect x="592.8" y="1916.6" width="11.0" height="19.7" fill="#000"/>
<rect x="579.8" y="1910.7" width="37.0" height="11.8" fill="#000"/>
<rect x="592.8" y="1958.3" width="11.0" height="19.7" fill="#000"/>
<rect x="579.8" y="1972.1" width="37.0" height="11.8" fill="#000"/>
<rect x="333.0" y="1730.0" width="11.0" height="40.0" fill="#000"/>
<rect x="331.0" y="1724.1" width="26.0" height="11.8" fill="#000"/>
<rect x="333.0" y="1770.0" width="11.0" height="40.0" fill="#000"/>
<rect x="331.0" y="1804.1" width="26.0" height="11.8" fill="#000"/>
<rect x="397.9" y="1756.0" width="11.0" height="59.0" fill="#000"/>
<rect x="384.9" y="1750.1" width="37.0" height="11.8" fill="#000"/>
<rect x="397.9" y="1815.0" width="11.0" height="59.0" fill="#000"/>
<rect x="384.9" y="1868.1" width="37.0" height="11.8" fill="#000"/>
<rect x="657.8" y="1970.0" width="11.0" height="84.0" fill="#000"/>
<rect x="644.8" y="1964.1" width="37.0" height="11.8" fill="#000"/>
<rect x="722.7" y="2005.0" width="11.0" height="45.0" fill="#000"/>
<rect x="709.7" y="1999.1" width="37.0" height="11.8" fill="#000"/>
<rect x="787.7" y="2032.0" width="11.0" height="48.0" fill="#000"/>
<rect x="774.7" y="2074.1" width="37.0" height="11.8" fill="#000"/>
<rect x="852.6" y="2038.5" width="11.0" height="43.5" fill="#000"/>
<rect x="839.6" y="2032.6" width="37.0" height="11.8" fill="#000"/>
<rect x="852.6" y="2082.0" width="11.0" height="43.5" fill="#000"/>
<rect x="839.6" y="2119.6" width="37.0" height="11.8" fill="#000"/>
<rect x="333.0" y="1677.5" width="11.0" height="70.0" fill="#000"/>
<rect x="331.0" y="1671.6" width="26.0" height="11.8" fill="#000"/>
<rect x="333.0" y="1747.5" width="11.0" height="70.0" fill="#000"/>
<rect x="331.0" y="1811.6" width="26.0" height="11.8" fill="#000"/>
<rect x="397.9" y="1698.0" width="11.0" height="37.0" fill="#000"/>
<rect x="384.9" y="1692.1" width="37.0" height="11.8" fill="#000"/>
<rect x="397.9" y="1735.0" width="11.0" height="37.0" fill="#000"/>
<rect x="384.9" y="1766.1" width="37.0" height="11.8" fill="#000"/>
<rect x="462.9" y="1837.0" width="11.0" height="27.0" fill="#000"/>
<rect x="449.9" y="1831.1" width="37.0" height="11.8" fill="#000"/>
<rect x="462.9" y="1864.0" width="11.0" height="27.0" fill="#000"/>
<rect x="449.9" y="1885.1" width="37.0" height="11.8" fill="#000"/>
<rect x="527.9" y="1879.0" width="11.0" height="45.0" fill="#000"/>
<rect x="514.9" y="1873.1" width="37.0" height="11.8" fill="#000"/>
<rect x="527.9" y="1924.0" width="11.0" height="45.0" fill="#000"/>
<rect x="514.9" y="1963.1" width="37.0" height="11.8" fill="#000"/>
<rect x="592.8" y="1940.0" width="11.0" height="40.0" fill="#000"/>
<rect x="579.8" y="1934.1" width="37.0" height="11.8" fill="#000"/>
<rect x="592.8" y="1980.0" width="11.0" height="40.0" fill="#000"/>
<rect x="579.8" y="2014.1" width="37.0" height="11.8" fill="#000"/>
<rect x="657.8" y="1970.0" width="11.0" height="60.0" fill="#000"/>
<rect x="644.8" y="2024.1" width="37.0" height="11.8" fill="#000"/>
<rect x="1502.1" y="1971.0" width="11.0" height="39.0" fill="#000"/>
<rect x="1489.1" y="1965.1" width="37.0" height="11.8" fill="#000"/>
<path d="M317.0,1674.5 L360.0,1674.5 L360.0,1680.5 L343.0,1714.5 L334.0,1714.5 L317.0,1680.5 Z M331.5,1683.5 L338.5,1693.5 L345.5,1683.5 Z" fill="#000" fill-rule="evenodd"/>
<path d="M381.9,1685.0 L424.9,1685.0 L424.9,1691.0 L407.9,1725.0 L398.9,1725.0 L381.9,1691.0 Z M396.4,1694.0 L403.4,1704.0 L410.4,1694.0 Z" fill="#000" fill-rule="evenodd"/>
<path d="M446.9,1770.0 L489.9,1770.0 L489.9,1776.0 L472.9,1810.0 L463.9,1810.0 L446.9,1776.0 Z M461.4,1779.0 L468.4,1789.0 L475.4,1779.0 Z" fill="#000" fill-rule="evenodd"/>
<path d="M511.9,1850.0 L554.9,1850.0 L554.9,1856.0 L537.9,1890.0 L528.9,1890.0 L511.9,1856.0 Z M526.4,1859.0 L533.4,1869.0 L540.4,1859.0 Z" fill="#000" fill-rule="evenodd"/>
<path d="M576.8,1940.0 L619.8,1940.0 L619.8,1946.0 L602.8,1980.0 L593.8,1980.0 L576.8,1946.0 Z M591.3,1949.0 L598.3,1959.0 L605.3,1949.0 Z" fill="#000" fill-rule="evenodd"/>
<path d="M641.8,2009.0 L684.8,2009.0 L684.8,2015.0 L667.8,2049.0 L658.8,2049.0 L641.8,2015.0 Z M656.2,2018.0 L663.2,2028.0 L670.2,2018.0 Z" fill="#000" fill-rule="evenodd"/>
<path d="M706.7,2064.0 L749.7,2064.0 L749.7,2070.0 L732.7,2104.0 L723.7,2104.0 L706.7,2070.0 Z M721.2,2073.0 L728.2,2083.0 L735.2,2073.0 Z" fill="#000" fill-rule="evenodd"/>
<path d="M771.7,2058.0 L814.7,2058.0 L814.7,2064.0 L797.7,2098.0 L788.7,2098.0 L771.7,2064.0 Z M786.2,2067.0 L793.2,2077.0 L800.2,2067.0 Z" fill="#000" fill-rule="evenodd"/>
<path d="M836.6,2045.0 L879.6,2045.0 L879.6,2051.0 L862.6,2085.0 L853.6,2085.0 L836.6,2051.0 Z M851.1,2054.0 L858.1,2064.0 L865.1,2054.0 Z" fill="#000" fill-rule="evenodd"/>
<path d="M901.5,2050.0 L944.5,2050.0 L944.5,2056.0 L927.5,2090.0 L918.5,2090.0 L901.5,2056.0 Z M916.0,2059.0 L923.0,2069.0 L930.0,2059.0 Z" fill="#000" fill-rule="evenodd"/>
<path d="M966.5,2053.0 L1009.5,2053.0 L1009.5,2059.0 L992.5,2093.0 L983.5,2093.0 L966.5,2059.0 Z M981.0,2062.0 L988.0,2072.0 L995.0,2062.0 Z" fill="#000" fill-rule="evenodd"/>
<path d="M1031.5,2005.0 L1074.5,2005.0 L1074.5,2011.0 L1057.5,2045.0 L1048.5,2045.0 L1031.5,2011.0 Z M1046.0,2014.0 L1053.0,2024.0 L1060.0,2014.0 Z" fill="#000" fill-rule="evenodd"/>
<path d="M1096.4,1978.0 L1139.4,1978.0 L1139.4,1984.0 L1122.4,2018.0 L1113.4,2018.0 L1096.4,1984.0 Z M1110.9,1987.0 L1117.9,1997.0 L1124.9,1987.0 Z" fill="#000" fill-rule="evenodd"/>
<path d="M1161.3,2010.0 L1204.3,2010.0 L1204.3,2016.0 L1187.3,2050.0 L1178.3,2050.0 L1161.3,2016.0 Z M1175.8,2019.0 L1182.8,2029.0 L1189.8,2019.0 Z" fill="#000" fill-rule="evenodd"/>
<path d="M1226.3,2010.0 L1269.3,2010.0 L1269.3,2016.0 L1252.3,2050.0 L1243.3,2050.0 L1226.3,2016.0 Z M1240.8,2019.0 L1247.8,2029.0 L1254.8,2019.0 Z" fill="#000" fill-rule="evenodd"/>
<path d="M1291.2,2010.0 L1334.2,2010.0 L1334.2,2016.0 L1317.2,2050.0 L1308.2,2050.0 L1291.2,2016.0 Z M1305.8,2019.0 L1312.8,2029.0 L1319.8,2019.0 Z" fill="#000" fill-rule="evenodd"/>
<path d="M1356.2,2020.0 L1399.2,2020.0 L1399.2,2026.0 L1382.2,2060.0 L1373.2,2060.0 L1356.2,2026.0 Z M1370.7,2029.0 L1377.7,2039.0 L1384.7,2029.0 Z" fill="#000" fill-rule="evenodd"/>
<path d="M1421.2,2032.0 L1464.2,2032.0 L1464.2,2038.0 L1447.2,2072.0 L1438.2,2072.0 L1421.2,2038.0 Z M1435.7,2041.0 L1442.7,2051.0 L1449.7,2041.0 Z" fill="#000" fill-rule="evenodd"/>
<path d="M1486.1,2005.0 L1529.1,2005.0 L1529.1,2011.0 L1512.1,2045.0 L1503.1,2045.0 L1486.1,2011.0 Z M1500.6,2014.0 L1507.6,2024.0 L1514.6,2014.0 Z" fill="#000" fill-rule="evenodd"/>
<path d="M315.5,1617.5h46v46h-46z M326.0,1629.5v22h25v-22z" fill="#000" fill-rule="evenodd"/>
<path d="M380.4,1650.7h46v46h-46z M390.9,1662.7v22h25v-22z" fill="#000" fill-rule="evenodd"/>
<path d="M445.4,1709.0h46v46h-46z M455.9,1721.0v22h25v-22z" fill="#000" fill-rule="evenodd"/>
<path d="M510.4,1807.0h46v46h-46z M520.9,1819.0v22h25v-22z" fill="#000" fill-rule="evenodd"/>
<path d="M575.3,1924.3h46v46h-46z M585.8,1936.3v22h25v-22z" fill="#000" fill-rule="evenodd"/>
<path d="M640.2,1962.0h46v46h-46z M650.8,1974.0v22h25v-22z" fill="#000" fill-rule="evenodd"/>
<path d="M705.2,2008.0h46v46h-46z M715.7,2020.0v22h25v-22z" fill="#000" fill-rule="evenodd"/>
<path d="M770.2,2037.0h46v46h-46z M780.7,2049.0v22h25v-22z" fill="#000" fill-rule="evenodd"/>
<path d="M835.1,2036.0h46v46h-46z M845.6,2048.0v22h25v-22z" fill="#000" fill-rule="evenodd"/>
<path d="M900.0,2043.0h46v46h-46z M910.5,2055.0v22h25v-22z" fill="#000" fill-rule="evenodd"/>
<path d="M965.0,2027.0h46v46h-46z M975.5,2039.0v22h25v-22z" fill="#000" fill-rule="evenodd"/>
<path d="M1030.0,2017.0h46v46h-46z M1040.5,2029.0v22h25v-22z" fill="#000" fill-rule="evenodd"/>
<path d="M1094.9,2007.0h46v46h-46z M1105.4,2019.0v22h25v-22z" fill="#000" fill-rule="evenodd"/>
<path d="M1159.8,2002.0h46v46h-46z M1170.3,2014.0v22h25v-22z" fill="#000" fill-rule="evenodd"/>
<path d="M1224.8,2002.0h46v46h-46z M1235.3,2014.0v22h25v-22z" fill="#000" fill-rule="evenodd"/>
<path d="M1289.8,2007.0h46v46h-46z M1300.2,2019.0v22h25v-22z" fill="#000" fill-rule="evenodd"/>
<path d="M1354.7,2012.0h46v46h-46z M1365.2,2024.0v22h25v-22z" fill="#000" fill-rule="evenodd"/>
<path d="M1419.7,1995.0h46v46h-46z M1430.2,2007.0v22h25v-22z" fill="#000" fill-rule="evenodd"/>
<path d="M1484.6,2002.0h46v46h-46z M1495.1,2014.0v22h25v-22z" fill="#000" fill-rule="evenodd"/>
<polygon points="320.0,1751.5 357.0,1751.5 342.5,1788.5 334.5,1788.5" fill="#000"/>
<polygon points="384.9,1796.5 421.9,1796.5 407.4,1833.5 399.4,1833.5" fill="#000"/>
<polygon points="449.9,1796.5 486.9,1796.5 472.4,1833.5 464.4,1833.5" fill="#000"/>
<polygon points="514.9,1868.5 551.9,1868.5 537.4,1905.5 529.4,1905.5" fill="#000"/>
<polygon points="579.8,1949.5 616.8,1949.5 602.3,1986.5 594.3,1986.5" fill="#000"/>
<polygon points="644.8,2035.5 681.8,2035.5 667.2,2072.5 659.2,2072.5" fill="#000"/>
<polygon points="709.7,2031.5 746.7,2031.5 732.2,2068.5 724.2,2068.5" fill="#000"/>
<polygon points="774.7,2013.5 811.7,2013.5 797.2,2050.5 789.2,2050.5" fill="#000"/>
<polygon points="839.6,2063.5 876.6,2063.5 862.1,2100.5 854.1,2100.5" fill="#000"/>
<polygon points="904.5,2029.5 941.5,2029.5 927.0,2066.5 919.0,2066.5" fill="#000"/>
<polygon points="969.5,2020.0 1006.5,2020.0 992.0,2057.0 984.0,2057.0" fill="#000"/>
<polygon points="1034.5,1989.5 1071.5,1989.5 1057.0,2026.5 1049.0,2026.5" fill="#000"/>
<polygon points="1099.4,1984.5 1136.4,1984.5 1121.9,2021.5 1113.9,2021.5" fill="#000"/>
<polygon points="1164.3,1991.5 1201.3,1991.5 1186.8,2028.5 1178.8,2028.5" fill="#000"/>
<polygon points="1229.3,2026.5 1266.3,2026.5 1251.8,2063.5 1243.8,2063.5" fill="#000"/>
<polygon points="1294.2,2024.5 1331.2,2024.5 1316.8,2061.5 1308.8,2061.5" fill="#000"/>
<polygon points="1359.2,2016.5 1396.2,2016.5 1381.7,2053.5 1373.7,2053.5" fill="#000"/>
<polygon points="1424.2,2016.5 1461.2,2016.5 1446.7,2053.5 1438.7,2053.5" fill="#000"/>
<polygon points="1489.1,2011.5 1526.1,2011.5 1511.6,2048.5 1503.6,2048.5" fill="#000"/>
<rect x="320.0" y="1729.0" width="37.0" height="37.0" fill="#000"/>
<rect x="384.9" y="1716.5" width="37.0" height="37.0" fill="#000"/>
<rect x="449.9" y="1845.5" width="37.0" height="37.0" fill="#000"/>
<rect x="514.9" y="1905.5" width="37.0" height="37.0" fill="#000"/>
<rect x="579.8" y="1961.5" width="37.0" height="37.0" fill="#000"/>
<rect x="644.8" y="1951.5" width="37.0" height="37.0" fill="#000"/>
<rect x="709.7" y="1992.3" width="37.0" height="37.0" fill="#000"/>
<rect x="774.7" y="2072.5" width="37.0" height="37.0" fill="#000"/>
<rect x="839.6" y="2051.5" width="37.0" height="37.0" fill="#000"/>
<rect x="904.5" y="2073.5" width="37.0" height="37.0" fill="#000"/>
<rect x="969.5" y="2054.5" width="37.0" height="37.0" fill="#000"/>
<rect x="1034.5" y="2026.5" width="37.0" height="37.0" fill="#000"/>
<rect x="1099.4" y="2011.5" width="37.0" height="37.0" fill="#000"/>
<rect x="1164.3" y="2016.5" width="37.0" height="37.0" fill="#000"/>
<rect x="1229.3" y="1996.5" width="37.0" height="37.0" fill="#000"/>
<rect x="1294.2" y="1991.5" width="37.0" height="37.0" fill="#000"/>
<rect x="1359.2" y="2001.5" width="37.0" height="37.0" fill="#000"/>
<rect x="1424.2" y="2006.5" width="37.0" height="37.0" fill="#000"/>
<rect x="1489.1" y="1991.5" width="37.0" height="37.0" fill="#000"/>
<polyline points="338.5,1694.5 403.4,1705.0 468.4,1790.0 533.4,1870.0 598.3,1960.0 663.2,2029.0 728.2,2084.0 793.2,2078.0 858.1,2065.0 923.0,2070.0 988.0,2073.0 1053.0,2025.0 1117.9,1998.0 1182.8,2030.0 1247.8,2030.0 1312.8,2030.0 1377.7,2040.0 1442.7,2052.0 1507.6,2025.0" fill="none" stroke="#000" stroke-width="2.9" stroke-linejoin="round"/>
<polyline points="338.5,1640.5 403.4,1673.7 468.4,1732.0 533.4,1830.0 598.3,1947.3 663.2,1985.0 728.2,2031.0 793.2,2060.0 858.1,2059.0 923.0,2066.0 988.0,2050.0 1053.0,2040.0 1117.9,2030.0 1182.8,2025.0 1247.8,2025.0 1312.8,2030.0 1377.7,2035.0 1442.7,2018.0 1507.6,2025.0" fill="none" stroke="#000" stroke-width="2.9" stroke-linejoin="round"/>
<polyline points="338.5,1770.0 403.4,1815.0 468.4,1815.0 533.4,1887.0 598.3,1968.0 663.2,2054.0 728.2,2050.0 793.2,2032.0 858.1,2082.0 923.0,2048.0 988.0,2038.5 1053.0,2008.0 1117.9,2003.0 1182.8,2010.0 1247.8,2045.0 1312.8,2043.0 1377.7,2035.0 1442.7,2035.0 1507.6,2030.0" fill="none" stroke="#000" stroke-width="2.9" stroke-linejoin="round"/>
<polyline points="338.5,1747.5 403.4,1735.0 468.4,1864.0 533.4,1924.0 598.3,1980.0 663.2,1970.0 728.2,2010.8 793.2,2091.0 858.1,2070.0 923.0,2092.0 988.0,2073.0 1053.0,2045.0 1117.9,2030.0 1182.8,2035.0 1247.8,2015.0 1312.8,2010.0 1377.7,2020.0 1442.7,2025.0 1507.6,2010.0" fill="none" stroke="#000" stroke-width="2.9" stroke-linejoin="round"/>
<rect x="1724.7" y="1520.7" width="99.2" height="3.2" fill="#000"/>
<polygon points="1753.0,1500.8 1793.0,1500.8 1777.0,1540.8 1769.0,1540.8" fill="#000"/>
<text transform="translate(1870.53,1545.30) scale(0.92,1)" font-size="74.6">ND</text>
<rect x="1724.7" y="1619.4" width="99.2" height="3.2" fill="#000"/>
<rect x="1753.0" y="1601.7" width="40.0" height="40.0" fill="#000"/>
<text transform="translate(1870.62,1644.00) scale(0.92,1)" font-size="74.6">HS</text>
<rect x="1724.7" y="1718.9" width="99.2" height="3.2" fill="#000"/>
<g transform="translate(1773.0,1720.0) scale(1.07)">
<path d="M-21.5,-20.0 L21.5,-20.0 L21.5,-14.0 L4.5,20.0 L-4.5,20.0 L-21.5,-14.0 Z M-7.0,-11.0 L0.0,-1.0 L7.0,-11.0 Z" fill="#000" fill-rule="evenodd"/>
</g>
<text transform="translate(1870.45,1743.80) scale(0.92,1)" font-size="74.6">HFD</text>
<rect x="1724.7" y="1818.4" width="99.2" height="3.2" fill="#000"/>
<path d="M1750.0,1797.0h46v46h-46z M1760.5,1809.0v22h25v-22z" fill="#000" fill-rule="evenodd"/>
<text transform="translate(1870.55,1843.00) scale(0.92,1)" font-size="74.6">HFHS</text>
<rect x="503.2" y="2919.5" width="248.5" height="780.3" fill="#000000" stroke="#000" stroke-width="3.5"/>
<rect x="625.5" y="2866.3" width="3.5" height="51.4" fill="#000"/>
<rect x="563.8" y="2864.6" width="127.0" height="3.5" fill="#000"/>
<rect x="877.2" y="3265.8" width="247.5" height="434.0" fill="#ffffff" stroke="#000" stroke-width="3.5"/>
<rect x="999.0" y="3190.3" width="3.5" height="73.7" fill="#000"/>
<rect x="937.2" y="3188.6" width="127.0" height="3.5" fill="#000"/>
<rect x="1250.2" y="2855.7" width="246.0" height="844.0" fill="#616161" stroke="#000" stroke-width="3.5"/>
<rect x="1372.3" y="2766.7" width="3.5" height="87.3" fill="#000"/>
<rect x="1310.6" y="2765.0" width="127.0" height="3.5" fill="#000"/>
<rect x="1623.2" y="3084.1" width="244.5" height="615.7" fill="#d3d3d3" stroke="#000" stroke-width="3.5"/>
<rect x="1745.5" y="3040.9" width="3.5" height="41.4" fill="#000"/>
<rect x="1683.7" y="3039.1" width="127.0" height="3.5" fill="#000"/>
<rect x="1497.6" y="2855.0" width="3.2" height="843.0" fill="#7a7a7a"/>
<rect x="434.3" y="2697.7" width="13.3" height="1006.9" fill="#000"/>
<rect x="411.0" y="3691.5" width="1522.4" height="13.1" fill="#000"/>
<rect x="413.2" y="3692.7" width="21.8" height="10.6" fill="#000"/>
<text transform="translate(405.0,3722.0) scale(0.88,1)" font-size="71.2" font-weight="normal" text-anchor="end" stroke="#000" stroke-width="1.1">0</text>
<rect x="413.2" y="3493.4" width="21.8" height="10.6" fill="#000"/>
<text transform="translate(405.0,3522.8) scale(0.88,1)" font-size="71.2" font-weight="normal" text-anchor="end" stroke="#000" stroke-width="1.1">5</text>
<rect x="413.2" y="3294.2" width="21.8" height="10.6" fill="#000"/>
<text transform="translate(405.0,3323.5) scale(0.88,1)" font-size="71.2" font-weight="normal" text-anchor="end" stroke="#000" stroke-width="1.1">10</text>
<rect x="413.2" y="3094.9" width="21.8" height="10.6" fill="#000"/>
<text transform="translate(405.0,3124.2) scale(0.88,1)" font-size="71.2" font-weight="normal" text-anchor="end" stroke="#000" stroke-width="1.1">15</text>
<rect x="413.2" y="2895.7" width="21.8" height="10.6" fill="#000"/>
<text transform="translate(405.0,2925.0) scale(0.88,1)" font-size="71.2" font-weight="normal" text-anchor="end" stroke="#000" stroke-width="1.1">20</text>
<rect x="413.2" y="2696.4" width="21.8" height="10.6" fill="#000"/>
<text transform="translate(405.0,2725.8) scale(0.88,1)" font-size="71.2" font-weight="normal" text-anchor="end" stroke="#000" stroke-width="1.1">25</text>
<rect x="622.0" y="3697.0" width="10.6" height="32.4" fill="#000"/>
<text transform="translate(581.33,3800.00) scale(0.8057,1)" font-size="75.90" font-weight="normal" stroke="#000" stroke-width="1.1">ND</text>
<rect x="995.3" y="3697.0" width="10.6" height="32.4" fill="#000"/>
<text transform="translate(936.60,3800.00) scale(0.7943,1)" font-size="75.90" font-weight="normal" stroke="#000" stroke-width="1.1">HFD</text>
<rect x="1367.4" y="3697.0" width="10.6" height="32.4" fill="#000"/>
<text transform="translate(1327.93,3798.94) scale(0.8281,1)" font-size="75.28" font-weight="normal" stroke="#000" stroke-width="1.1">HS</text>
<rect x="1740.0" y="3697.0" width="10.6" height="32.4" fill="#000"/>
<text transform="translate(1661.53,3798.94) scale(0.7966,1)" font-size="75.28" font-weight="normal" stroke="#000" stroke-width="1.1">HFHS</text>
<rect x="629.5" y="2778.7" width="366.2" height="4.0" fill="#000"/>
<rect x="1375.4" y="2708.0" width="381.0" height="4.0" fill="#000"/>
<text transform="translate(1542.80,2621.66) scale(1.0521,1)" font-size="96.76" font-weight="bold">*</text>
<text transform="translate(768.00,2682.46) scale(1.0521,1)" font-size="96.76" font-weight="bold">*</text>
<text transform="translate(817.80,2682.46) scale(1.0521,1)" font-size="96.76" font-weight="bold">*</text>
<text transform="translate(241.27,3472.79) rotate(-90) scale(0.9622,1)" font-size="82.98" font-weight="bold">GIR mg/kg/min</text>
<text transform="translate(189.62,2637.92) scale(0.9955,1)" font-size="117.61" font-weight="bold">C</text>
</svg>
</body></html>
